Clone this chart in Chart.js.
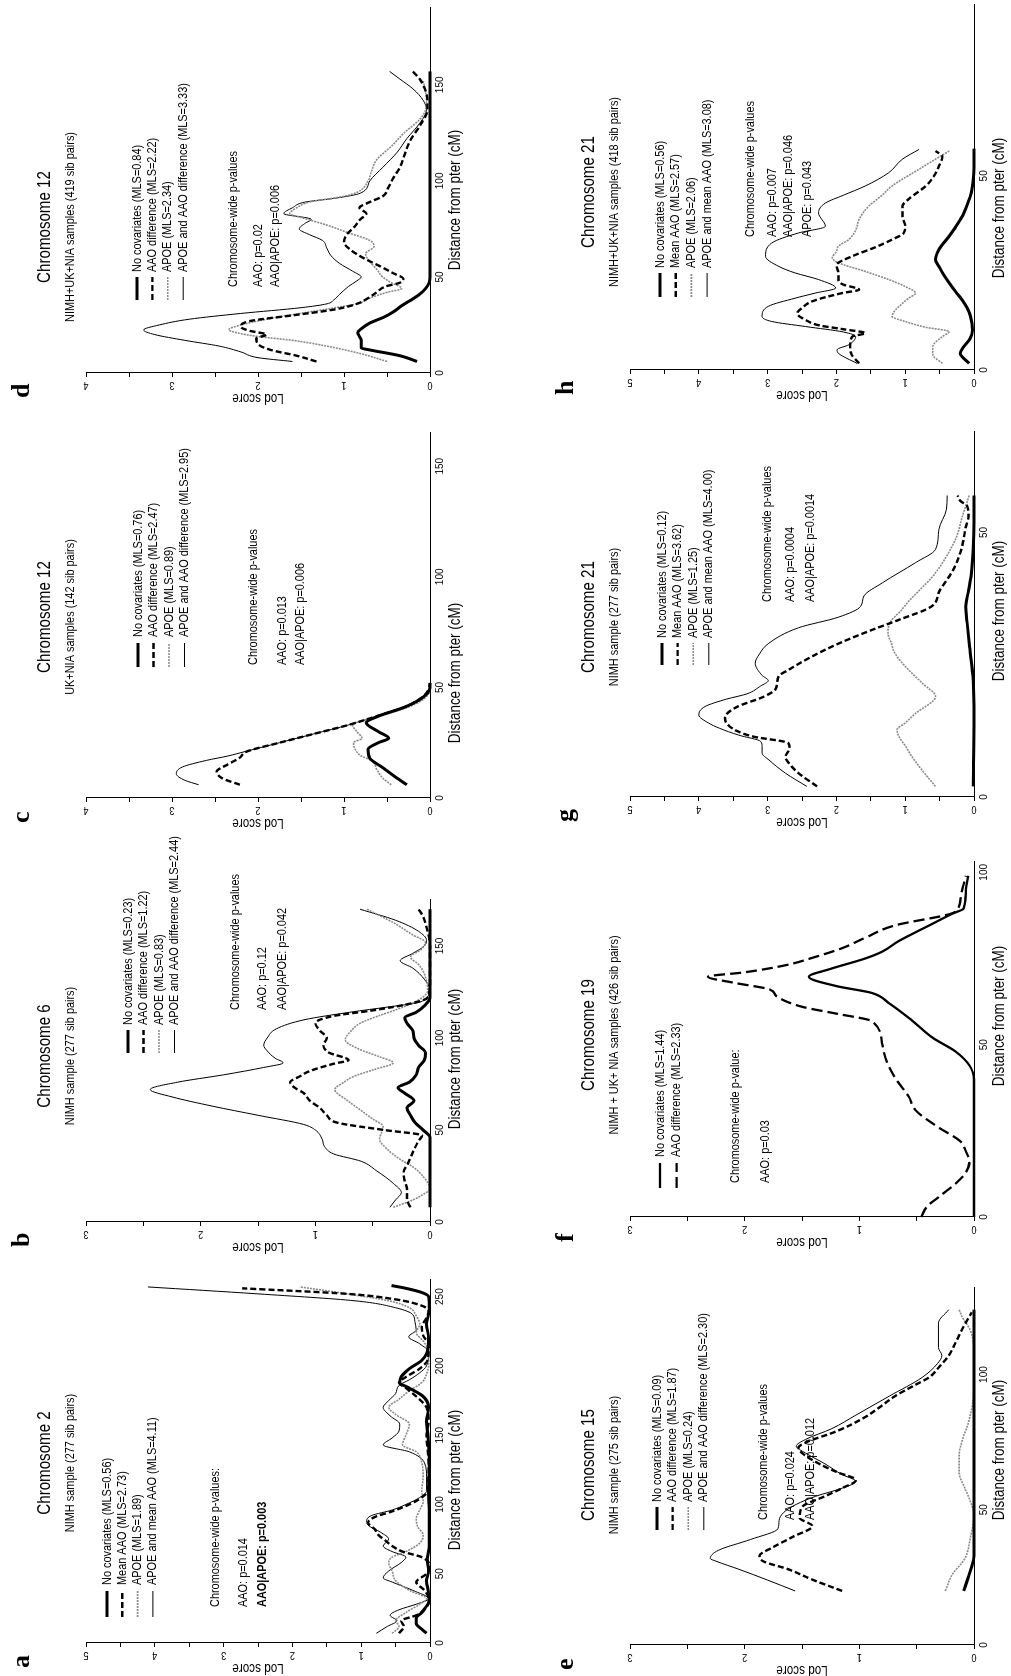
<!DOCTYPE html>
<html>
<head>
<meta charset="utf-8">
<script src="https://cdn.jsdelivr.net/npm/chart.js@4.4.1/dist/chart.umd.min.js"></script>
<style>
  html, body { margin: 0; padding: 0; background: #fff; overflow: hidden; }
  #fig { position: absolute; left: 0; top: 0; width: 1676px; height: 1011px;
         transform-origin: 0 0; transform: translate(0px, 1676px) rotate(-90deg); }
  #fig canvas { position: absolute; }
</style>
</head>
<body>
<div id="fig"></div>
<script>
// ---- values: [cM, lod] ----
// a: chromosome 2, NIMH
var chr2None = [[7,0.05],[10,0.12],[14,0.2],[18,0.2],[22,0.12],[26,0.06],[30,0.01],[36,0.02],[45,0.05],[52,0.02],[60,0.04],[70,0.01],[90,0.01],[110,0.02],[130,0.01],[150,0.03],[160,0.05],[170,0.02],[178,0.1],[184,0.3],[188,0.44],[192,0.42],[198,0.3],[204,0.12],[210,0.04],[220,0.02],[230,0.05],[240,0.01],[250,0.02],[253,0.12],[256,0.35],[258,0.56]];
var chr2Aao = [[7,0.45],[12,0.38],[16,0.42],[20,0.2],[26,0.05],[32,0.02],[38,0.08],[44,0.2],[50,0.05],[56,0.01],[62,0.12],[66,0.4],[70,0.55],[74,0.65],[78,0.75],[82,0.8],[87,0.9],[91,0.8],[95,0.55],[100,0.3],[104,0.15],[110,0.03],[130,0.02],[150,0.05],[160,0.02],[170,0.05],[178,0.2],[184,0.35],[188,0.45],[192,0.35],[198,0.15],[205,0.03],[215,0.02],[222,0.1],[228,0.12],[235,0.05],[240,0.02],[244,0.15],[248,0.5],[252,1.2],[256,2.73]];
var chr2Apoe = [[7,0.55],[12,0.45],[16,0.5],[22,0.35],[28,0.15],[32,0.05],[38,0.3],[45,0.5],[52,0.55],[58,0.6],[62,0.55],[66,0.35],[72,0.15],[78,0.1],[84,0.18],[90,0.2],[96,0.15],[102,0.1],[110,0.12],[120,0.1],[130,0.12],[138,0.2],[143,0.4],[150,0.35],[158,0.3],[165,0.5],[170,0.6],[176,0.45],[182,0.3],[188,0.12],[194,0.05],[200,0.02],[210,0.02],[218,0.1],[224,0.2],[230,0.15],[236,0.2],[242,0.3],[247,0.6],[252,1.2],[257,1.89]];
var chr2Both = [[7,0.78],[12,0.62],[16,0.48],[20,0.58],[24,0.45],[28,0.2],[32,0.02],[38,0.25],[44,0.55],[47,0.68],[52,0.6],[58,0.42],[62,0.35],[66,0.55],[70,0.68],[75,0.6],[80,0.72],[85,0.9],[88,0.92],[92,0.85],[96,0.55],[100,0.35],[105,0.15],[110,0.05],[120,0.05],[130,0.08],[138,0.3],[143,0.68],[148,0.55],[153,0.45],[158,0.44],[164,0.58],[170,0.68],[175,0.6],[180,0.5],[186,0.45],[190,0.3],[195,0.15],[200,0.05],[210,0.02],[216,0.15],[221,0.31],[226,0.2],[232,0.22],[237,0.25],[242,0.5],[247,1.09],[252,2.5],[257,4.1]];

// b: chromosome 6, NIMH
var chr6None = [[8,0],[20,0],[40,0],[46,0],[50,0.06],[54,0.13],[58,0.17],[62,0.2],[66,0.14],[70,0.22],[73,0.28],[76,0.18],[80,0.12],[84,0.1],[88,0.05],[92,0.04],[96,0.1],[100,0.14],[104,0.15],[108,0.2],[111,0.22],[114,0.12],[118,0.04],[122,0],[140,0],[170,0]];
var chr6Aao = [[8,0.17],[12,0.2],[18,0.2],[22,0.22],[27,0.23],[32,0.19],[38,0.15],[44,0.1],[47,0.07],[50,0.4],[54,0.81],[58,0.9],[62,0.96],[66,1.05],[70,1.1],[73,1.18],[76,1.22],[79,1.14],[82,1.05],[86,0.84],[88,0.71],[92,0.88],[96,0.93],[100,0.9],[104,0.96],[108,1.0],[112,0.84],[115,0.5],[119,0.15],[122,0.02],[130,0],[150,0],[160,0.03],[166,0.06],[170,0.1]];
var chr6Apoe = [[8,0.32],[12,0.15],[15,0.06],[18,0],[24,0.05],[30,0.15],[34,0.26],[40,0.38],[45,0.44],[49,0.42],[52,0.41],[56,0.5],[61,0.61],[66,0.72],[72,0.83],[76,0.75],[79,0.67],[83,0.48],[86.5,0.32],[90,0.45],[94,0.62],[99,0.74],[103,0.7],[108,0.61],[112,0.45],[115.5,0.29],[121,0.09],[126,0.02],[135,0.05],[140,0.1],[144,0.17],[148,0.08],[152,0.04],[156,0.15],[162,0.3],[170,0.55]];
var chr6Both = [[8,0.35],[12,0.3],[16,0.25],[21,0.32],[28,0.47],[33,0.6],[37,0.84],[41,0.92],[45,0.94],[50,1.0],[53,1.1],[58,1.5],[63,1.9],[68,2.25],[72,2.44],[76,2.2],[80,1.8],[84,1.45],[86.5,1.28],[89,1.35],[93,1.42],[96,1.45],[100,1.42],[105,1.34],[110,1.09],[114,0.7],[117,0.35],[119,0.12],[122,0.03],[126,0],[132,0.05],[138,0.15],[142,0.26],[146,0.15],[150,0.05],[153,0.03],[158,0.1],[164,0.3],[170,0.61]];

// c: chromosome 12, UK+NIA
var chr12ukNone = [[6,0.27],[10,0.42],[14,0.56],[18,0.7],[22,0.72],[25,0.6],[27,0.48],[30,0.6],[34,0.74],[37,0.6],[41,0.3],[44,0.14],[47,0.04],[50,0],[52,0]];
var chr12ukAao = [[6,2.21],[9,2.42],[12,2.48],[15,2.36],[18,2.22],[21,2.13],[25,1.75],[29,1.35],[33,0.95],[37,0.62],[41,0.3],[44,0.15],[47,0.05],[50,0.01],[52,0]];
var chr12ukApoe = [[6,0.45],[9,0.55],[13,0.62],[17,0.68],[19,0.8],[22,0.87],[25,0.89],[27,0.79],[30,0.85],[33,0.9],[37,0.58],[41,0.26],[44,0.1],[47,0.02],[50,0]];
var chr12ukBoth = [[6,2.69],[8,2.85],[11,2.95],[14,2.88],[17,2.6],[19,2.35],[21,2.15],[25,1.75],[29,1.35],[33,0.95],[37,0.62],[41,0.3],[44,0.15],[47,0.05],[50,0]];

// d: chromosome 12, NIMH+UK+NIA
var chr12allNone = [[6,0.15],[9,0.35],[12,0.7],[13,0.8],[17,0.8],[19,0.82],[21,0.84],[23,0.8],[26,0.7],[29,0.54],[32,0.42],[35,0.33],[38,0.22],[41,0.12],[44,0.05],[47,0.01],[50,0],[100,0],[157,0]];
var chr12allAao = [[6,1.32],[9,1.55],[12,1.85],[15,2.0],[18,2.02],[20,1.9],[22,2.1],[24,2.2],[27,2.1],[30,1.6],[33,1.12],[36,0.85],[39,0.72],[42,0.62],[45,0.52],[47,0.35],[49,0.31],[52,0.43],[56,0.6],[60,0.78],[64,0.92],[68,1.0],[72,0.97],[76,0.88],[80,0.81],[83,0.74],[86,0.82],[89,0.7],[92,0.55],[97,0.48],[102,0.42],[107,0.35],[113,0.3],[121,0.23],[130,0.1],[137,0.03],[142,0.03],[148,0.06],[153,0.12],[157,0.2]];
var chr12allApoe = [[6,0.5],[10,0.8],[14,1.2],[17,1.6],[19,2.0],[21,2.25],[22.5,2.34],[25,2.2],[28,1.9],[31,1.51],[34,1.1],[36,0.85],[39,0.7],[42,0.5],[44,0.33],[47,0.45],[50,0.55],[54,0.62],[58,0.7],[62,0.75],[66,0.65],[69,0.7],[73,0.95],[77,1.2],[81,1.5],[83,1.63],[86,1.55],[89,1.4],[92,1.0],[94,0.85],[100,0.72],[105,0.68],[111,0.62],[118,0.45],[125,0.3],[132,0.12],[137,0.05],[142,0.04],[148,0.06],[152,0.08]];
var chr12allBoth = [[6,1.6],[8,2.0],[11,2.2],[14,2.45],[17,2.85],[20,3.2],[22.4,3.33],[25,3.15],[28,2.8],[31,2.2],[34,1.5],[36,1.2],[38,1.12],[41,1.05],[45,0.95],[48,0.85],[50,0.8],[53,0.9],[57,1.05],[61,1.15],[65,1.2],[69,1.25],[72,1.4],[75,1.52],[78,1.45],[80,1.38],[83,1.7],[86,1.6],[89,1.45],[91,1.1],[93.6,0.81],[100,0.7],[107,0.55],[115,0.38],[122,0.27],[130,0.12],[137,0.04],[142,0.08],[148,0.2],[153,0.35],[157,0.47]];

// e: chromosome 15, NIMH
var chr15None = [[20,0.09],[25,0.05],[29,0.02],[33,0],[60,0],[90,0],[124,0]];
var chr15Aao = [[20,1.15],[24,1.4],[28,1.62],[31,1.84],[33,1.87],[36,1.76],[40,1.58],[44,1.41],[47,1.52],[51,1.5],[55,1.3],[58,1.15],[61,1.03],[64,1.2],[67,1.35],[71,1.5],[73,1.53],[75,1.46],[79,1.2],[84,0.96],[88,0.82],[92,0.69],[96,0.52],[99,0.39],[103,0.3],[107,0.22],[111,0.17],[117,0.1],[123,0.02]];
var chr15Apoe = [[20,0.25],[26,0.19],[32,0.08],[40,0.03],[48,0],[54,0.04],[58,0.08],[64,0.13],[70,0.13],[76,0.1],[82,0.05],[90,0.01],[100,0],[110,0],[117,0.04],[121,0.1],[124,0.13]];
var chr15Both = [[20,1.56],[24,1.8],[28,2.05],[31,2.25],[32,2.3],[35,2.23],[39,1.95],[43,1.71],[46,1.7],[49,1.66],[52,1.55],[55,1.38],[58,1.15],[60.5,1.03],[63,1.15],[67,1.3],[71,1.47],[73.5,1.55],[76,1.47],[80,1.24],[85,1.03],[92,0.74],[99,0.45],[104,0.32],[107,0.28],[110,0.31],[115,0.31],[119,0.31],[124,0.22]];

// f: chromosome 19, NIMH+UK+NIA
var chr19None = [[0,0],[20,0],[40,0],[44,0.04],[48,0.16],[52,0.36],[57,0.54],[62,0.74],[65,0.89],[67,1.2],[69.7,1.44],[72,1.25],[75,0.95],[77,0.8],[80,0.66],[84.6,0.39],[88,0.19],[89.5,0.09],[95,0.07],[99,0.05]];
var chr19Aao = [[0,0.46],[3,0.41],[6,0.3],[10,0.15],[13,0.07],[16,0.04],[19,0.07],[22,0.12],[26,0.31],[31,0.51],[35,0.57],[40,0.68],[45,0.76],[50,0.8],[56.8,0.89],[59,1.2],[61,1.5],[64,1.72],[66,1.78],[68,2.1],[69.7,2.32],[71,2.0],[73,1.65],[75.5,1.38],[78,1.15],[81,0.95],[84.6,0.69],[88,0.2],[89,0.15],[94,0.11],[99,0.07]];

// g: chromosome 21, NIMH
var chr21nimhNone = [[2,0.01],[15,0],[22,0.01],[29,0.07],[33,0.1],[36,0.12],[39,0.08],[42,0.04],[47,0.01],[52,0],[57,0]];
var chr21nimhAao = [[2,2.28],[4.5,2.55],[6.4,2.69],[7.6,2.74],[9.2,2.68],[10.2,2.7],[11.4,3.2],[12.5,3.45],[14,3.6],[15,3.62],[17,3.45],[19,3.05],[20.5,2.88],[22.8,2.84],[24,2.7],[26.6,2.35],[29,1.97],[31.6,1.48],[33.5,1.09],[36,0.62],[39,0.5],[43,0.3],[47,0.18],[51,0.12],[53,0.08],[55,0.1],[56,0.2],[57,0.24]];
var chr21nimhApoe = [[2,0.56],[5,0.75],[7.6,0.9],[9.5,0.99],[11.4,1.09],[12.7,1.12],[14,1.0],[15.8,0.85],[19,0.56],[21.5,0.75],[24.7,1.0],[27.2,1.15],[29,1.2],[31,1.25],[33,1.22],[35.4,1.05],[37,0.95],[39,0.8],[41.7,0.6],[45.5,0.4],[49.3,0.25],[53,0.17],[57,0.07]];
var chr21nimhBoth = [[2,2.43],[4.5,2.74],[7,2.98],[8.3,3.08],[9.5,3.08],[10.5,3.1],[11.7,3.42],[13,3.7],[14,3.86],[15.5,4.0],[17.1,3.91],[18.5,3.6],[19.5,3.3],[21,3.1],[22,2.99],[23,3.08],[25.3,3.18],[27,3.12],[29,2.99],[32,2.55],[34,1.97],[36,1.65],[38,1.6],[40.5,1.33],[44.3,0.85],[46.8,0.56],[50.6,0.51],[54.4,0.4],[57,0.39]];

// h: chromosome 21, NIMH+UK+NIA
var chr21allNone = [[1.7,0.07],[4.3,0.2],[6,0.15],[8,0.06],[10.3,0.02],[13.8,0.05],[16,0.1],[18,0.17],[20,0.26],[22.4,0.36],[24.5,0.44],[26.7,0.51],[28.4,0.56],[31,0.51],[34.5,0.36],[37,0.26],[39.6,0.17],[42.5,0.1],[45.6,0.04],[49,0.01],[52,0],[57,0]];
var chr21allAao = [[1.7,1.67],[4,1.78],[6,1.8],[8.6,1.77],[9.5,1.58],[10.5,1.9],[11.5,2.25],[12.9,2.45],[14.6,2.57],[16,2.5],[17.7,2.35],[19.8,1.92],[20.7,1.67],[22,1.9],[23,1.97],[25,1.97],[27,2.0],[29.3,1.77],[31.5,1.45],[33.6,1.19],[35.3,1.02],[37,1.0],[39.6,1.04],[42.2,1.04],[44,0.95],[47.4,0.7],[50,0.58],[52.5,0.51],[55,0.46],[56.4,0.56]];
var chr21allApoe = [[1.7,0.46],[4,0.6],[6,0.6],[8.6,0.46],[9.9,0.36],[11,0.7],[12.5,1.0],[13.8,1.19],[15.5,1.14],[17,1.05],[18.5,0.95],[19.8,0.85],[21.5,1.0],[23.3,1.24],[25.5,1.6],[27.6,1.97],[28.9,2.06],[30.5,2.0],[31.9,1.97],[33.6,1.82],[36,1.72],[38.8,1.67],[42.2,1.53],[44.8,1.35],[47.4,1.19],[51.7,0.8],[54.3,0.56],[56.4,0.36]];
var chr21allBoth = [[1.7,1.7],[4.3,1.97],[5.2,1.99],[6.5,1.82],[8.6,1.72],[9.8,1.9],[11.2,2.45],[12.5,2.94],[13.8,3.08],[16.4,2.99],[18.5,2.6],[19.8,2.31],[21.1,2.01],[23.3,2.26],[25,2.6],[26.7,2.84],[29.3,3.03],[32.7,2.94],[35.3,2.55],[37,2.16],[40.5,2.26],[43,2.16],[45,1.9],[47.4,1.58],[50.8,1.24],[54.3,1.04],[56.8,0.8]];

// ---- texts ----
var letters = ['a','b','c','d','e','f','g','h'];
var titles = ['Chromosome 2','Chromosome 6','Chromosome 12','Chromosome 12','Chromosome 15','Chromosome 19','Chromosome 21','Chromosome 21'];
var subtitles = ['NIMH sample (277 sib pairs)','NIMH sample (277 sib pairs)','UK+NIA samples (142 sib pairs)','NIMH+UK+NIA samples (419 sib pairs)','NIMH sample (275 sib pairs)','NIMH + UK+ NIA samples (426 sib pairs)','NIMH sample (277 sib pairs)','NIMH+UK+NIA samples (418 sib pairs)'];
var legendA = ['No covariates (MLS=0.56)','Mean AAO (MLS=2.73)','APOE (MLS=1.89)','APOE and mean AAO (MLS=4.11)'];
var legendB = ['No covariates (MLS=0.23)','AAO difference (MLS=1.22)','APOE (MLS=0.83)','APOE and AAO difference (MLS=2.44)'];
var legendC = ['No covariates (MLS=0.76)','AAO difference (MLS=2.47)','APOE (MLS=0.89)','APOE and AAO difference (MLS=2.95)'];
var legendD = ['No covariates (MLS=0.84)','AAO difference (MLS=2.22)','APOE (MLS=2.34)','APOE and AAO difference (MLS=3.33)'];
var legendE = ['No covariates (MLS=0.09)','AAO difference (MLS=1.87)','APOE (MLS=0.24)','APOE and AAO difference (MLS=2.30)'];
var legendF = ['No covariates (MLS=1.44)','AAO difference (MLS=2.33)'];
var legendG = ['No covariates (MLS=0.12)','Mean AAO (MLS=3.62)','APOE (MLS=1.25)','APOE and mean AAO (MLS=4.00)'];
var legendH = ['No covariates (MLS=0.56)','Mean AAO (MLS=2.57)','APOE (MLS=2.06)','APOE and mean AAO (MLS=3.08)'];
var pvalA = ['Chromosome-wide p-values:','AAO: p=0.014','AAO|APOE: p=0.003'];
var pvalB = ['Chromosome-wide p-values','AAO: p=0.12','AAO|APOE: p=0.042'];
var pvalC = ['Chromosome-wide p-values','AAO: p=0.013','AAO|APOE: p=0.006'];
var pvalD = ['Chromosome-wide p-values','AAO: p=0.02','AAO|APOE: p=0.006'];
var pvalE = ['Chromosome-wide p-values','AAO: p=0.024','AAO|APOE: p=0.012'];
var pvalF = ['Chromosome-wide p-value:','AAO: p=0.03'];
var pvalG = ['Chromosome-wide p-values','AAO: p=0.0004','AAO|APOE: p=0.0014'];
var pvalH = ['Chromosome-wide p-values','AAO: p=0.007','AAO|APOE: p=0.046','APOE: p=0.043'];
var xMax = [262, 175, 165, 190, 132, 103, 69, 94];
var yMax = [5, 3, 4, 4, 3, 3, 5, 5];

var panelSeries = [
  [chr2None, chr2Aao, chr2Apoe, chr2Both],
  [chr6None, chr6Aao, chr6Apoe, chr6Both],
  [chr12ukNone, chr12ukAao, chr12ukApoe, chr12ukBoth],
  [chr12allNone, chr12allAao, chr12allApoe, chr12allBoth],
  [chr15None, chr15Aao, chr15Apoe, chr15Both],
  [chr19None, chr19Aao],
  [chr21nimhNone, chr21nimhAao, chr21nimhApoe, chr21nimhBoth],
  [chr21allNone, chr21allAao, chr21allApoe, chr21allBoth]
];
var kinds = ['none', 'aao', 'apoe', 'both'];
var legends = [legendA, legendB, legendC, legendD, legendE, legendF, legendG, legendH];
var pvals = [pvalA, pvalB, pvalC, pvalD, pvalE, pvalF, pvalG, pvalH];

// ---- layout (unrotated figure, 1676 x 1011) ----
var plotLeft  = [33, 454, 878, 1303, 31, 459, 879, 1306];
var plotRight = [396, 776, 1243, 1668, 388, 814, 1244, 1671];
var plotTop   = [86, 86, 86, 86, 630, 630, 630, 630];
var plotH = 344;
var titleDx  = [180, 166, 181, 146, 180, 182, 180, 178];
var xTitleDx = [163, 163, 125, 173, 195, 201, 186, 162];
// legend: sample start, sample end, text start, first row centre, row step
var legendPos = [[26,52,58,21,15.3],[169,192,197,42,15.5],[131,155,161,52,15.5],[73,96,101,51,15.4],
                 [115,138,143,27,15.6],[29,54,60,30,16.7],[132,154,159,32,15.6],[73,97,102,30,15.7]];
var pvalX = [36, 212, 133, 86, 125, 34, 195, 133];
var pvalY = [[129,157,176],[149,176,196],[167,196,214],[147,172,189],[133,160,180],[105,135],[137,160,180],[120,142,158,177]];
var boldPval = [2, -1, -1, -1, -1, -1, -1, -1];

var SANS = '"Liberation Sans", Arial, Helvetica, sans-serif';
Chart.defaults.font.family = SANS;
Chart.defaults.color = '#000';

function lineStyle(kind, p) {
  if (kind === 'none') return {color: '#000', width: p === 5 ? 2.3 : 3, dash: []};
  if (kind === 'aao') return {color: '#000', width: p === 5 ? 2.3 : 2.4, dash: p === 5 ? [11, 5] : [6, 3]};
  if (kind === 'apoe') return {color: '#8a8a8a', width: 1.6, dash: [2, 1]};
  return {color: '#000', width: 1, dash: []};
}

function txt(ctx, s, x, y, size, align, bold, rot) {
  ctx.save();
  ctx.translate(x, y);
  if (rot) ctx.rotate(rot);
  ctx.scale(0.84, 1);
  ctx.font = (bold ? 'bold ' : '') + size + 'px ' + SANS;
  ctx.fillStyle = '#000';
  ctx.textAlign = align;
  ctx.textBaseline = 'middle';
  ctx.fillText(s, 0, 0);
  ctx.restore();
}

var panelText = {
  id: 'panelText',
  afterDraw: function(chart) {
    var p = chart.options.plugins.panelText.index;
    var ctx = chart.ctx, area = chart.chartArea, ys = chart.scales.y;
    var L = area.left, T = area.top;

    // panel letter
    ctx.save();
    ctx.font = 'bold 26px "Liberation Serif", "Times New Roman", serif';
    ctx.fillStyle = '#000';
    ctx.textBaseline = 'alphabetic';
    ctx.fillText(letters[p], L - 25, T - 57);
    ctx.restore();

    txt(ctx, titles[p], L + titleDx[p], T - 41, 18, 'center');
    txt(ctx, subtitles[p], L + titleDx[p], T - 16, 13, 'center');

    // y tick labels, parallel to the axis
    for (var v = 0; v <= yMax[p]; v++) {
      txt(ctx, String(v), L - 12, ys.getPixelForValue(v), 11, 'center', false, -Math.PI / 2);
    }
    txt(ctx, 'Lod score', L - 25, (area.top + area.bottom) / 2, 14, 'center', false, -Math.PI / 2);
    txt(ctx, 'Distance from pter (cM)', L + xTitleDx[p], T + 370, 16, 'center');

    // legend
    var lp = legendPos[p];
    legends[p].forEach(function(label, k) {
      var st = lineStyle(kinds[k], p);
      var y = T + lp[3] + k * lp[4];
      ctx.save();
      ctx.strokeStyle = st.color;
      ctx.lineWidth = st.width;
      ctx.setLineDash(st.dash);
      ctx.beginPath();
      ctx.moveTo(L + lp[0], y);
      ctx.lineTo(L + lp[1], y);
      ctx.stroke();
      ctx.restore();
      txt(ctx, label, L + lp[2], y, 13, 'left');
    });

    pvals[p].forEach(function(s, k) {
      txt(ctx, s, L + pvalX[p], T + pvalY[p][k], 13, 'left', boldPval[p] === k);
    });
  }
};

var fig = document.getElementById('fig');

function makePanel(p) {
  var L = plotLeft[p], R = plotRight[p], T = plotTop[p];
  var cw = 440, ch = 480;
  var cv = document.createElement('canvas');
  cv.width = cw;
  cv.height = ch;
  cv.style.left = (L - 50) + 'px';
  cv.style.top = (T - 86) + 'px';
  fig.appendChild(cv);

  var datasets = panelSeries[p].map(function(d, k) {
    var st = lineStyle(kinds[k], p);
    return {
      data: d,
      borderColor: st.color,
      borderWidth: st.width,
      borderDash: st.dash,
      pointRadius: 0,
      cubicInterpolationMode: 'monotone',
      fill: false,
      clip: 6
    };
  });

  new Chart(cv, {
    type: 'line',
    data: {datasets: datasets},
    options: {
      responsive: false,
      animation: false,
      devicePixelRatio: 1,
      layout: {padding: {left: 10, top: 86, right: cw - 50 - (R - L), bottom: ch - 86 - plotH - 40}},
      plugins: {legend: {display: false}, tooltip: {enabled: false}, panelText: {index: p}},
      scales: {
        x: {
          type: 'linear', min: 0, max: xMax[p],
          afterFit: function(s) { s.height = 40; },
          ticks: {stepSize: 50, includeBounds: false, font: {size: 10}, padding: 4, maxRotation: 0, color: '#000'},
          grid: {display: true, drawOnChartArea: false, drawTicks: false},
          border: {display: true, color: '#000', width: 1}
        },
        y: {
          min: 0, max: yMax[p],
          afterFit: function(s) { s.width = 40; },
          ticks: {stepSize: 0.5, display: false},
          grid: {display: true, drawOnChartArea: false, drawTicks: true, tickLength: 4, color: '#000'},
          border: {display: true, color: '#000', width: 1}
        }
      }
    },
    plugins: [panelText]
  });
}

for (var p = 0; p < 8; p++) makePanel(p);
</script>
</body>
</html>
